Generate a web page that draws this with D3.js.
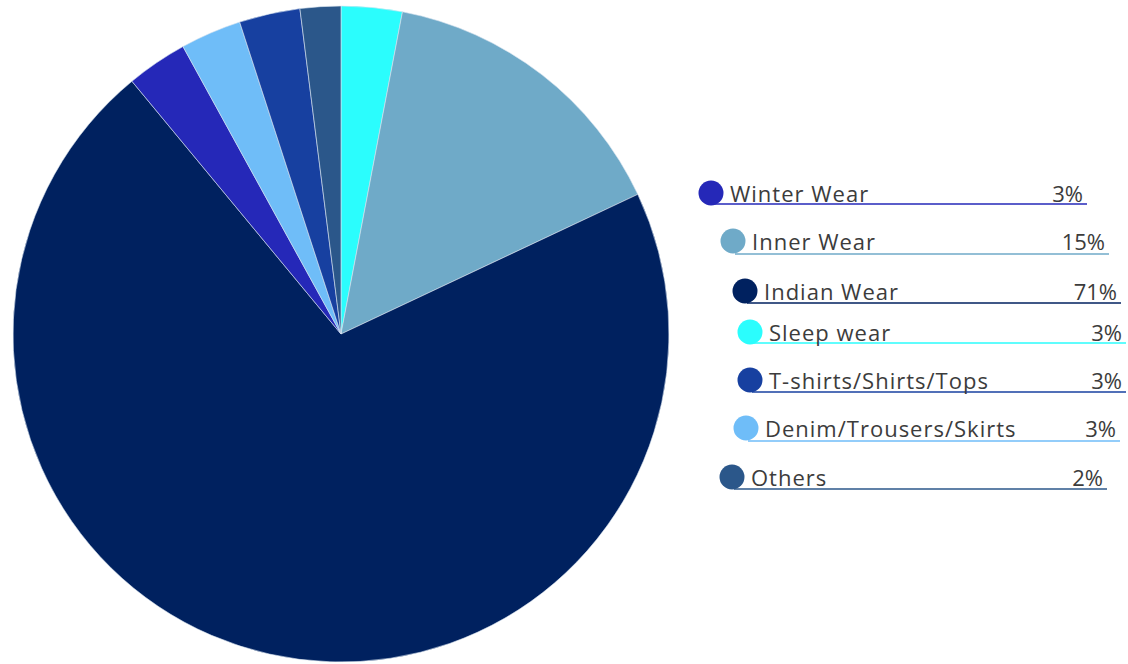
<!DOCTYPE html>
<html>
<head>
<meta charset="utf-8">
<script src="https://cdn.jsdelivr.net/npm/d3@7"></script>
<style>
  html, body { margin: 0; padding: 0; background: #fff; }
  svg { display: block; }
  .leg-text { font-family: "Open Sans", "DejaVu Sans", sans-serif; font-size: 22px; fill: #3c3c3c; }
</style>
</head>
<body>
<div id="chart"></div>
<script>
// datos en el orden del pastel (sentido horario desde arriba)
const pieCategories = ["Sleep wear", "Inner Wear", "Indian Wear", "Winter Wear", "Denim/Trousers/Skirts", "T-shirts/Shirts/Tops", "Others"];
const pieValues = [3, 15, 71, 3, 3, 3, 2];

// orden de la leyenda
const legendCategories = ["Winter Wear", "Inner Wear", "Indian Wear", "Sleep wear", "T-shirts/Shirts/Tops", "Denim/Trousers/Skirts", "Others"];
const legendLabels = ["3%", "15%", "71%", "3%", "3%", "3%", "2%"];

const colorMap = {
  "Sleep wear": "#2bfdfd",
  "Inner Wear": "#6faac8",
  "Indian Wear": "#00215f",
  "Winter Wear": "#2528b8",
  "Denim/Trousers/Skirts": "#6fbdf8",
  "T-shirts/Shirts/Tops": "#1740a0",
  "Others": "#2b578a"
};

const width = 1128, height = 664;
const cx = 341, cy = 334, radius = 328;

const svg = d3.select("#chart").append("svg")
  .attr("width", width)
  .attr("height", height);

const color = d3.scaleOrdinal()
  .domain(Object.keys(colorMap))
  .range(Object.values(colorMap));

const pie = d3.pie().sort(null).value(d => d.v);
const arc = d3.arc().innerRadius(0).outerRadius(radius);

const pieData = pieCategories.map((c, i) => ({ c: c, v: pieValues[i] }));

svg.append("g")
  .attr("transform", `translate(${cx},${cy})`)
  .selectAll("path")
  .data(pie(pieData))
  .enter()
  .append("path")
  .attr("d", arc)
  .attr("fill", d => color(d.data.c))
  .attr("stroke", "#d8e4f0")
  .attr("stroke-width", 0.6)
  .attr("stroke-linejoin", "round");

// leyenda escalonada como en el original
const legX = [711, 733, 745, 750, 750, 746, 732];   // centro del círculo
const legY = [193, 241, 291, 332, 380, 428, 477];
const legEnd = [1087, 1109, 1121, 1126, 1126, 1120, 1107];
const lineY = [204, 254, 303, 343, 392, 441, 489];

const leg = svg.append("g");
legendCategories.forEach((c, i) => {
  const g = leg.append("g");
  g.append("line")
    .attr("x1", legX[i] + 2).attr("x2", legEnd[i])
    .attr("y1", lineY[i]).attr("y2", lineY[i])
    .attr("stroke", color(c))
    .attr("stroke-width", 1.5);
  g.append("circle")
    .attr("cx", legX[i]).attr("cy", legY[i])
    .attr("r", 12.5)
    .attr("fill", color(c));
  g.append("text")
    .attr("class", "leg-text")
    .attr("x", legX[i] + 19)
    .attr("y", legY[i] + 8.5)
    .attr("letter-spacing", "1px")
    .text(c);
  g.append("text")
    .attr("class", "leg-text")
    .attr("x", legEnd[i] - 4)
    .attr("y", legY[i] + 8.5)
    .attr("text-anchor", "end")
    .text(legendLabels[i]);
});
</script>
</body>
</html>
